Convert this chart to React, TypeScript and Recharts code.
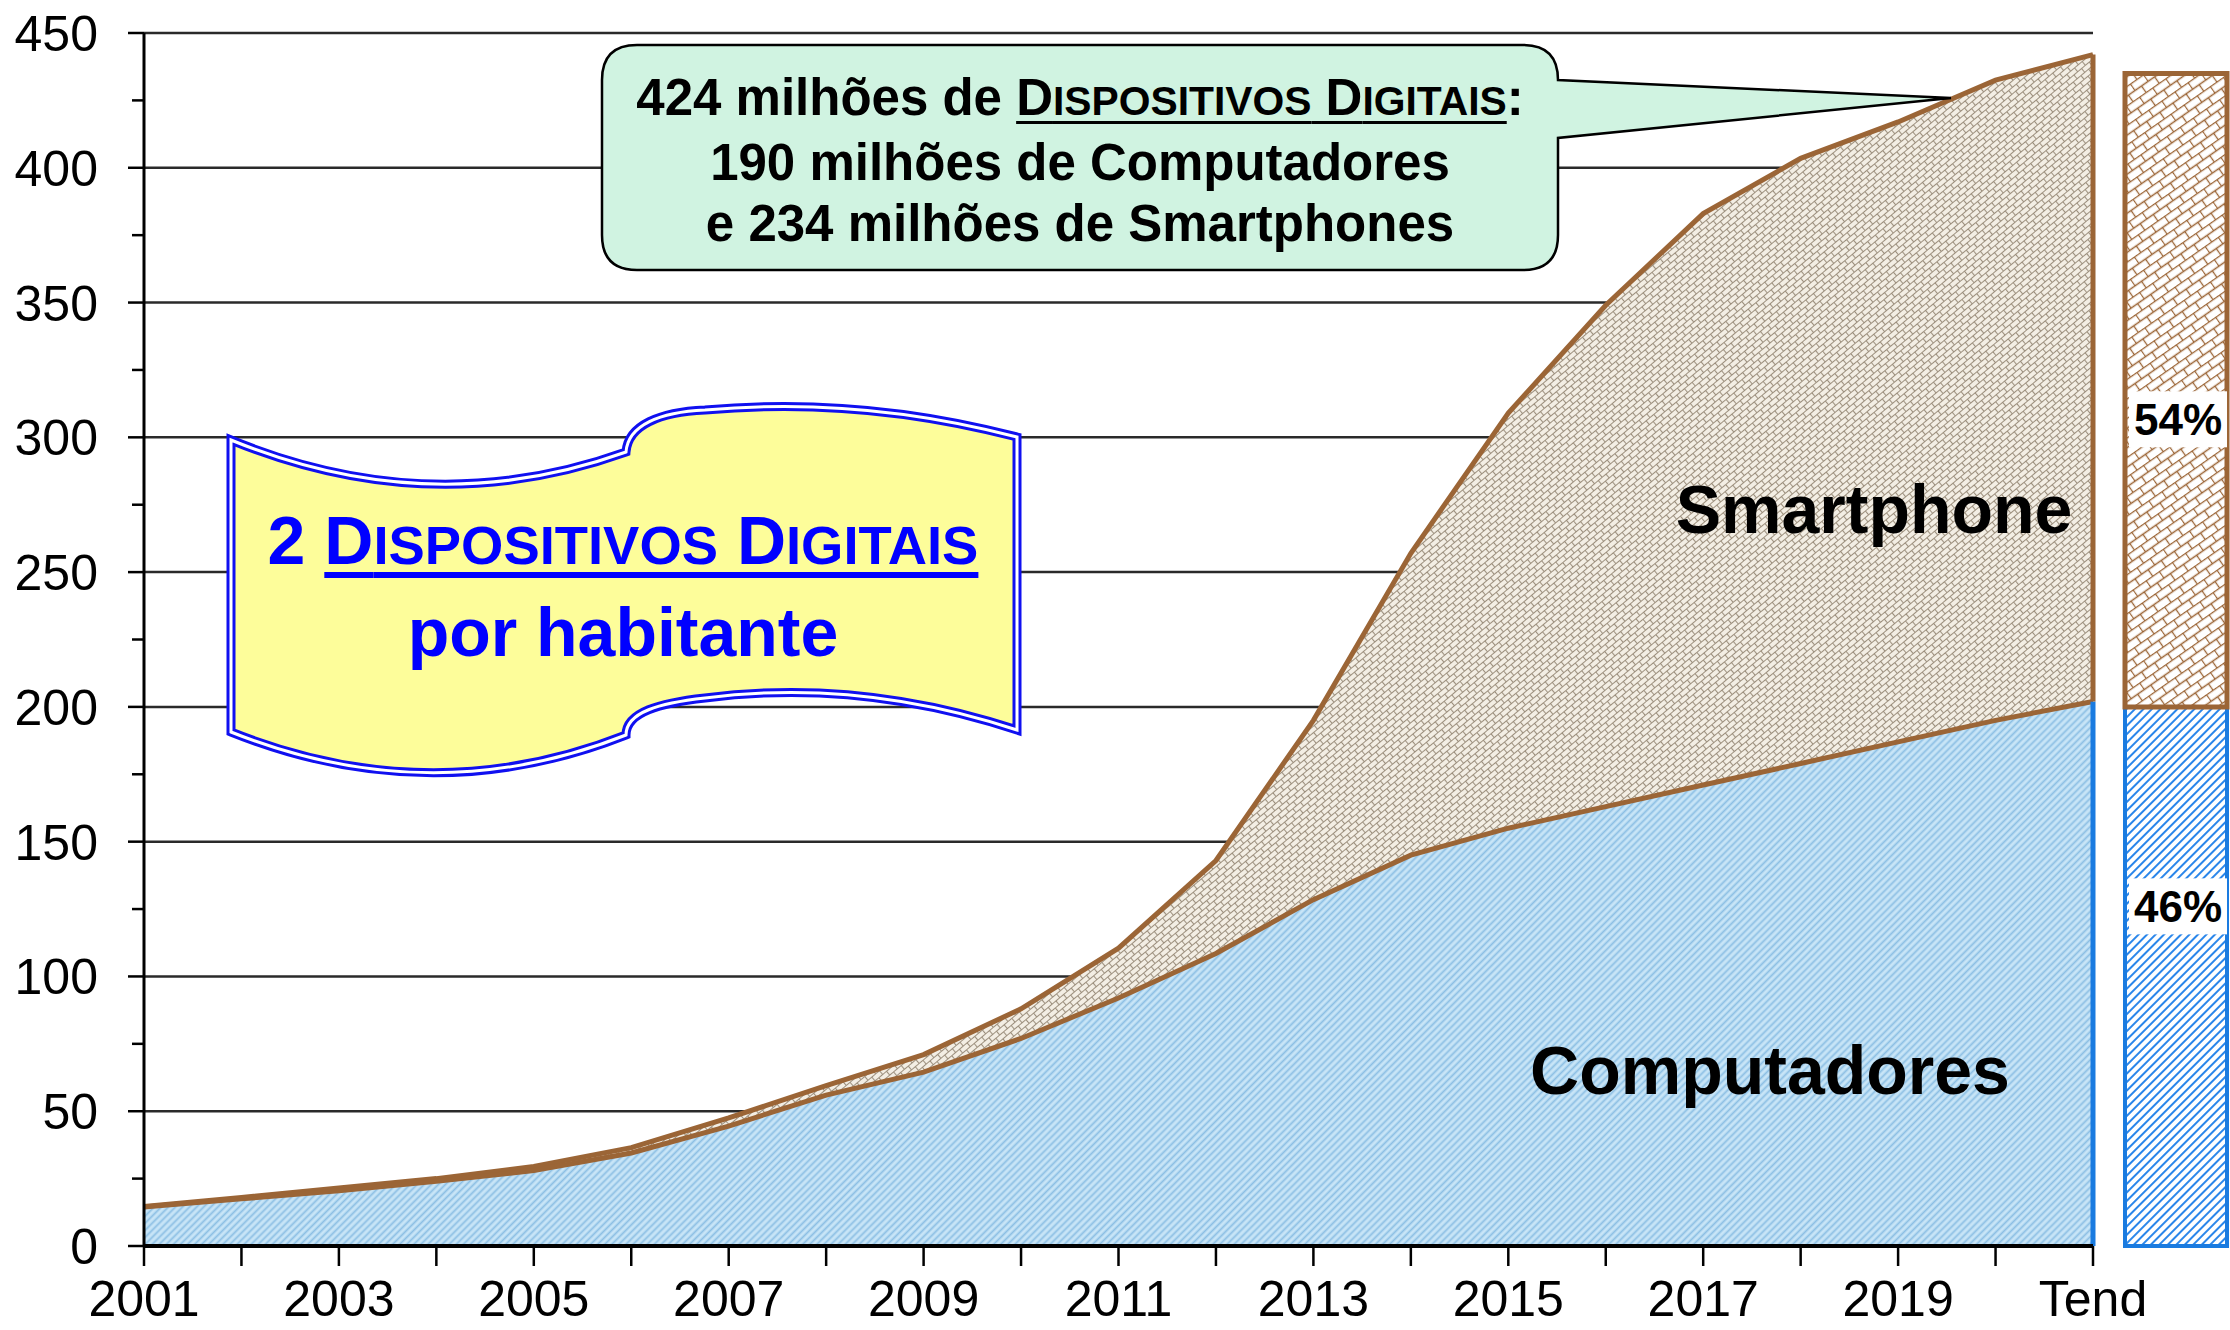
import React from 'react';
import {
  ComposedChart, Area, Line, XAxis, YAxis, CartesianGrid, ReferenceLine,
  BarChart, Bar,
} from 'recharts';

const years = ['2001', '2002', '2003', '2004', '2005', '2006', '2007', '2008', '2009', '2010',
  '2011', '2012', '2013', '2014', '2015', '2016', '2017', '2018', '2019', '2020', 'Tend'];
const computadores = [14.5, 17.5, 20.5, 24, 28, 34.5, 44.5, 56, 64.5, 77,
  92, 108.5, 128.5, 145, 155, 163, 171, 179, 187, 195, 202];
const smartphones = [0.2, 0.5, 1, 1, 1.5, 2, 3, 3.5, 6.5, 11,
  18.5, 34.5, 66.5, 112, 154, 186, 212, 224.5, 230, 237.5, 240];

const yTicks = [0, 25, 50, 75, 100, 125, 150, 175, 200, 225, 250, 275, 300, 325, 350, 375, 400, 425, 450];
const gridValues = [50, 100, 150, 200, 250, 300, 350, 400, 450];

// barra da direita (participação)
const barComputadores = 200;
const barSmartphones = 235;
const barLabels = ['46%', '54%'];

const data = years.map((year, i) => ({ year, comp: computadores[i], smart: smartphones[i] }));
const barData = [{ name: 'Tend', comp: barComputadores, smart: barSmartphones }];

const FONT = "'Liberation Sans', Arial, sans-serif";
const BROWN = '#9b6536';
const BLUE = '#1a7be0';

const YTick = (props: any) => {
  const { x, y, payload } = props;
  const major = payload.value % 50 === 0;
  const ax = x + 30 + 16;
  return (
    <g>
      <line x1={ax - (major ? 16 : 12)} x2={ax} y1={y} y2={y} stroke="#000" strokeWidth={2.5} />
      {major && (
        <text x={x} y={y} dy="0.36em" textAnchor="end" fontSize={50} fontFamily={FONT} fill="#000">
          {payload.value}
        </text>
      )}
    </g>
  );
};

const PctLabel = ({ x, y, width, height, text, frac }: any) => {
  const cy = y + height * frac;
  return (
    <g>
      <rect x={x + 4} y={cy - 28} width={width - 4} height={56} fill="#fff" />
      <text x={x + width / 2 + 2} y={cy} dy="0.36em" textAnchor="middle" fontSize={44}
        fontWeight="bold" fontFamily={FONT} fill="#000">{text}</text>
    </g>
  );
};

const Patterns = () => (
  <svg width={0} height={0} style={{ position: 'absolute' }}>
    <defs>
      <pattern id="hatchBlue" patternUnits="userSpaceOnUse" width="5" height="5" patternTransform="rotate(45)">
        <rect width="5" height="5" fill="#c8e5f7" />
        <line x1="2.5" y1="0" x2="2.5" y2="5" stroke="#8cbfe4" strokeWidth="1.8" />
      </pattern>
      <pattern id="brick" patternUnits="userSpaceOnUse" width="10" height="10" patternTransform="rotate(-40)">
        <rect width="10" height="10" fill="#f3eee4" />
        <path d="M0 0.5H10 M0 5.5H10 M0.5 0.5V5.5 M5.5 5.5V10" stroke="#9c8f7d" strokeWidth="1.1" fill="none" />
      </pattern>
      <pattern id="brickBar" patternUnits="userSpaceOnUse" width="16" height="16" patternTransform="rotate(-35)">
        <rect width="16" height="16" fill="#fff" />
        <path d="M0 0.5H16 M0 8.5H16 M0.5 0.5V8.5 M8.5 8.5V16" stroke={BROWN} strokeWidth="1.3" fill="none" />
      </pattern>
      <pattern id="hatchBar" patternUnits="userSpaceOnUse" width="6" height="6" patternTransform="rotate(45)">
        <rect width="6" height="6" fill="#fff" />
        <line x1="3" y1="0" x2="3" y2="6" stroke="#2a86ea" strokeWidth="2" />
      </pattern>
    </defs>
  </svg>
);

const App = () => {
  const last = years.length - 1;
  return (
    <div style={{ position: 'absolute', left: 0, top: 0, width: 2230, height: 1330, background: '#fff', fontFamily: FONT }}>
      <Patterns />
      <ComposedChart width={2230} height={1330} data={data}
        margin={{ top: 33, right: 137, bottom: 0, left: 0 }}>
        <CartesianGrid vertical={false} horizontalValues={gridValues} stroke="#2a2a2a" strokeWidth={2.5} />
        <XAxis dataKey="year" scale="point" interval={0} height={84}
          tickFormatter={(v: string, i: number) => (i % 2 === 0 ? v : '')}
          tickSize={20} tickMargin={14}
          tickLine={{ stroke: '#000', strokeWidth: 2.5 }}
          axisLine={{ stroke: '#000', strokeWidth: 4 }}
          tick={{ fill: '#000', fontSize: 50, fontFamily: FONT }} />
        <YAxis domain={[0, 450]} ticks={yTicks} interval={0} width={144}
          tickSize={16} tickMargin={30} tickLine={false}
          axisLine={{ stroke: '#000', strokeWidth: 3 }}
          tick={<YTick />} />
        <Area type="linear" dataKey="comp" stackId="s" fill="url(#hatchBlue)" fillOpacity={1}
          stroke="none" isAnimationActive={false} />
        <Area type="linear" dataKey="smart" stackId="s" fill="url(#brick)" fillOpacity={1}
          stroke={BROWN} strokeWidth={5} isAnimationActive={false} />
        <Line type="linear" dataKey="comp" stroke={BROWN} strokeWidth={5} dot={false}
          isAnimationActive={false} />
        <ReferenceLine segment={[{ x: years[last], y: 0 }, { x: years[last], y: computadores[last] }]}
          stroke={BLUE} strokeWidth={5} />
        <ReferenceLine segment={[{ x: years[last], y: computadores[last] },
          { x: years[last], y: computadores[last] + smartphones[last] }]}
          stroke={BROWN} strokeWidth={5} />
      </ComposedChart>

      <div style={{ position: 'absolute', left: 2110, top: 0 }}>
        <BarChart width={120} height={1330} data={barData} barCategoryGap={0}
          margin={{ top: 33, right: 3, bottom: 84, left: 15 }}>
          <XAxis dataKey="name" hide />
          <YAxis domain={[0, 450]} hide />
          <Bar dataKey="comp" stackId="b" fill="url(#hatchBar)" stroke={BLUE} strokeWidth={4}
            isAnimationActive={false}
            label={(p: any) => <PctLabel {...p} text={barLabels[0]} frac={0.37} />} />
          <Bar dataKey="smart" stackId="b" fill="url(#brickBar)" stroke={BROWN} strokeWidth={5}
            isAnimationActive={false}
            label={(p: any) => <PctLabel {...p} text={barLabels[1]} frac={0.546} />} />
        </BarChart>
      </div>

      <svg width={2230} height={1330} style={{ position: 'absolute', left: 0, top: 0, pointerEvents: 'none' }}>
        {/* balão verde */}
        <path d="M637 45 H1523 Q1558 45 1558 80 L1951 98 L1558 138 V235 Q1558 270 1523 270 H637 Q602 270 602 235 V80 Q602 45 637 45 Z"
          fill="#d0f3e1" stroke="#000" strokeWidth={2.5} />
        {/* faixa amarela */}
        <path d="M231 440 Q431 522 626 452 C628 425 660 412 705 410 Q860 396 1017 437 L1017 730 Q860 678 705 698 C660 703 626 712 626 735 Q431 812 231 732 Z"
          fill="#fdfd9a" stroke="#1010f0" strokeWidth={9} />
        <path d="M231 440 Q431 522 626 452 C628 425 660 412 705 410 Q860 396 1017 437 L1017 730 Q860 678 705 698 C660 703 626 712 626 735 Q431 812 231 732 Z"
          fill="none" stroke="#fff" strokeWidth={3} />
      </svg>

      <div style={{ position: 'absolute', left: 602, top: 67, width: 956, textAlign: 'center',
        fontWeight: 'bold', fontSize: 51, lineHeight: '61px', color: '#000' }}>
        424 milhões de <span style={{ textDecoration: 'underline', textDecorationThickness: 3, textUnderlineOffset: 6 }}>
          D<span style={{ fontSize: '0.8em' }}>ISPOSITIVOS</span> D<span style={{ fontSize: '0.8em' }}>IGITAIS</span>
        </span>:<br />
        190 milhões de Computadores<br />
        e 234 milhões de Smartphones
      </div>

      <div style={{ position: 'absolute', left: 228, top: 497, width: 790, textAlign: 'center',
        fontWeight: 'bold', fontSize: 68, lineHeight: '86px', color: '#0000ff' }}>
        2 <span style={{ textDecoration: 'underline', textDecorationThickness: 6, textUnderlineOffset: 8 }}>
          D<span style={{ fontSize: '0.8em' }}>ISPOSITIVOS</span> D<span style={{ fontSize: '0.8em' }}>IGITAIS</span>
        </span><br />
        por habitante
      </div>

      <div style={{ position: 'absolute', left: 1574, top: 475, width: 600, textAlign: 'center',
        fontWeight: 'bold', fontSize: 68, lineHeight: '68px', color: '#000' }}>Smartphone</div>
      <div style={{ position: 'absolute', left: 1470, top: 1036, width: 600, textAlign: 'center',
        fontWeight: 'bold', fontSize: 68, lineHeight: '68px', color: '#000' }}>Computadores</div>
    </div>
  );
};

export default App;
